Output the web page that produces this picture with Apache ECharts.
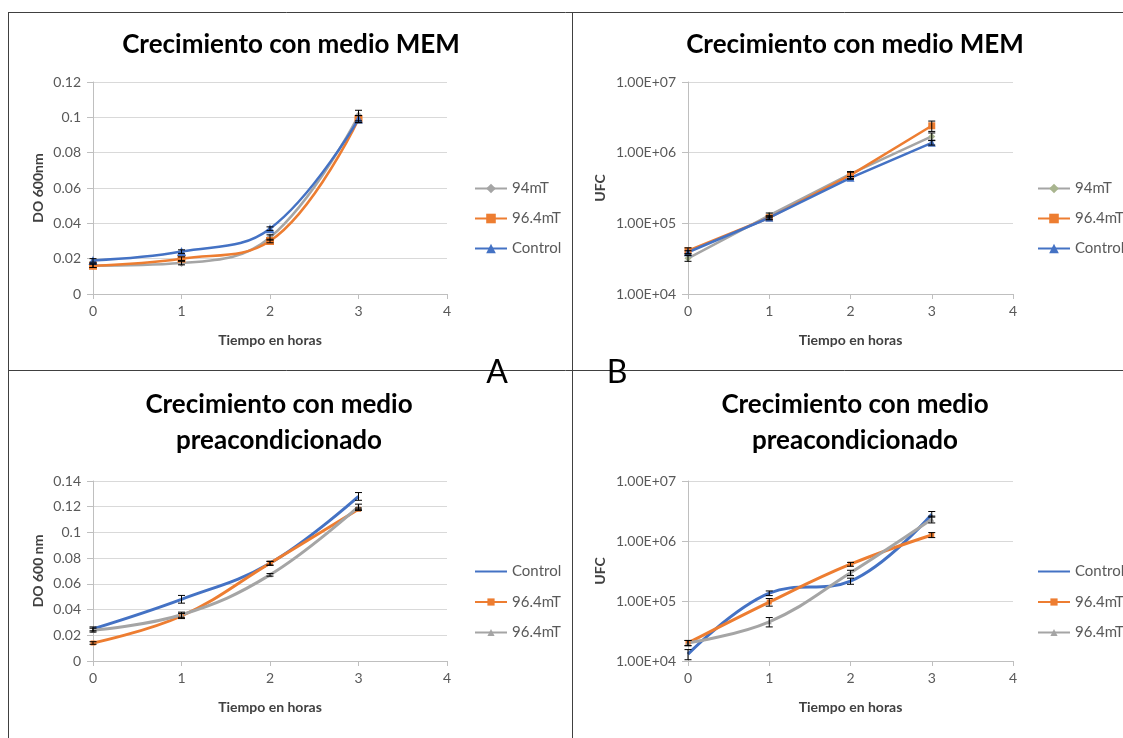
<!DOCTYPE html>
<html><head><meta charset="utf-8">
<script src="https://cdn.jsdelivr.net/npm/echarts@6/dist/echarts.min.js"></script>
<style>html,body{margin:0;padding:0;background:#fff}#c{width:1123px;height:738px}</style>
</head><body><div id="c"></div>
<script>
// ---- data ----
const hours = [0, 1, 2, 3];
const xTicks = [0, 1, 2, 3, 4];

// Panel A: MEM, DO 600nm
const a94 = [0.016, 0.0175, 0.032, 0.101];
const a94Err = [0.001, 0.001, 0.0015, 0.003];
const a964 = [0.016, 0.020, 0.030, 0.099];
const a964Err = [0.001, 0.001, 0.001, 0.002];
const aCtrl = [0.019, 0.024, 0.037, 0.099];
const aCtrlErr = [0.001, 0.001, 0.001, 0.002];

// Panel B: MEM, UFC
const b94 = [32000, 130000, 500000, 1700000];
const b94Err = [3000, 10000, 40000, 200000];
const b964 = [41000, 120000, 480000, 2400000];
const b964Err = [4000, 8000, 50000, 400000];
const bCtrl = [39000, 120000, 440000, 1380000];
const bCtrlErr = [2000, 6000, 20000, 100000];

// Panel C: preacondicionado, DO 600 nm
const cCtrl = [0.025, 0.048, 0.076, 0.128];
const cCtrlErr = [0.0015, 0.003, 0.0015, 0.003];
const c964 = [0.014, 0.035, 0.076, 0.118];
const c964Err = [0.001, 0.002, 0.0015, 0.001];
const c964b = [0.024, 0.036, 0.067, 0.120];
const c964bErr = [0.0015, 0.002, 0.001, 0.002];

// Panel D: preacondicionado, UFC
const dCtrl = [13000, 135000, 215000, 2800000];
const dCtrlErr = [2500, 12000, 25000, 300000];
const d964 = [20000, 96000, 410000, 1260000];
const d964Err = [2000, 14000, 30000, 120000];
const d964b = [20000, 45000, 295000, 2300000];
const d964bErr = [2000, 8000, 30000, 300000];

// ---- styling ----
const FONT = 'Lato, "Open Sans", sans-serif';
const BLUE = '#4472C4', ORANGE = '#ED7D31', GRAY = '#A5A5A5';

const chart = echarts.init(document.getElementById('c'), null, {renderer: 'canvas'});

function pairs(vals) { return hours.map((h, i) => [h, vals[i]]); }

function lineS(name, vals, g, color, symbol, size, smooth, symColor, width) {
  return {
    name, type: 'line', xAxisIndex: g, yAxisIndex: g, data: pairs(vals),
    smooth: smooth, symbol: symbol, symbolSize: size, showSymbol: size > 0,
    lineStyle: {color, width: width}, itemStyle: {color: symColor || color},
    z: 3, animation: false
  };
}
function errS(vals, errs, g) {
  return {
    type: 'custom', xAxisIndex: g, yAxisIndex: g, silent: true, z: 4, animation: false,
    data: hours.map((h, i) => [h, vals[i] - errs[i], vals[i] + errs[i]]),
    encode: {x: 0, y: [1, 2]},
    renderItem(params, api) {
      const x = api.value(0);
      const lo = api.coord([x, api.value(1)]);
      const hi = api.coord([x, api.value(2)]);
      const hw = 3.5;
      const st = {stroke: '#000', lineWidth: 1};
      return {type: 'group', children: [
        {type: 'line', shape: {x1: lo[0], y1: lo[1], x2: hi[0], y2: hi[1]}, style: st},
        {type: 'line', shape: {x1: hi[0] - hw, y1: hi[1], x2: hi[0] + hw, y2: hi[1]}, style: st},
        {type: 'line', shape: {x1: lo[0] - hw, y1: lo[1], x2: lo[0] + hw, y2: lo[1]}, style: st}
      ]};
    }
  };
}

const grids = [
  {left: 93, width: 354, top: 82, height: 212},
  {left: 688, width: 325, top: 82, height: 212},
  {left: 93, width: 354, top: 481, height: 180},
  {left: 688, width: 325, top: 481, height: 180}
];

const axisLineC = '#BFBFBF';
const labelStyle = {color: '#595959', fontSize: 14, fontFamily: FONT};
const nameStyle = {color: '#404040', fontSize: 14, fontWeight: 'bold', fontFamily: FONT};

const xAxes = grids.map((g, i) => ({
  gridIndex: i, type: 'value', min: xTicks[0], max: xTicks[xTicks.length - 1], interval: 1,
  axisLine: {show: true, lineStyle: {color: axisLineC, width: 1}},
  axisTick: {show: true, length: 5, lineStyle: {color: axisLineC}},
  splitLine: {show: false},
  axisLabel: Object.assign({margin: 10}, labelStyle),
  name: 'Tiempo en horas', nameLocation: 'middle', nameGap: 39, nameTextStyle: nameStyle
}));

const fmtDec = v => String(+v.toFixed(3));
const fmtExp = v => '1.00E+' + String(Math.round(Math.log10(v))).padStart(2, '0');

function linY(i, max, name, gap) {
  return {
    gridIndex: i, type: 'value', min: 0, max: max, interval: 0.02,
    axisLine: {show: true, lineStyle: {color: axisLineC}},
    axisTick: {show: true, length: 6, lineStyle: {color: axisLineC}},
    splitLine: {show: true, lineStyle: {color: '#D9D9D9', width: 1}},
    axisLabel: Object.assign({formatter: fmtDec, margin: 12}, labelStyle),
    name, nameLocation: 'middle', nameGap: gap, nameTextStyle: nameStyle
  };
}
function logY(i, name, gap) {
  return {
    gridIndex: i, type: 'log', logBase: 10, min: 1e4, max: 1e7,
    axisLine: {show: true, lineStyle: {color: axisLineC}},
    axisTick: {show: true, length: 6, lineStyle: {color: axisLineC}},
    splitLine: {show: true, lineStyle: {color: '#D9D9D9', width: 1}},
    axisLabel: Object.assign({formatter: fmtExp, margin: 12}, labelStyle),
    name, nameLocation: 'middle', nameGap: gap, nameTextStyle: nameStyle
  };
}
const yAxes = [
  linY(0, 0.12, 'DO 600nm', 48),
  logY(1, 'UFC', 81),
  linY(2, 0.14, 'DO 600 nm', 48),
  logY(3, 'UFC', 81)
];

// unique legend names per panel (trailing spaces keep the visible text identical)
const N = {
  a: ['94mT', '96.4mT', 'Control'],
  b: ['94mT ', '96.4mT ', 'Control '],
  c: ['Control  ', '96.4mT  ', '96.4mT   '],
  d: ['Control    ', '96.4mT    ', '96.4mT     ']
};

const series = [
  // A
  lineS(N.a[0], a94, 0, GRAY, 'diamond', 8, 0.4, null, 2.5),
  lineS(N.a[1], a964, 0, ORANGE, 'rect', 8, 0.4, null, 2.5),
  lineS(N.a[2], aCtrl, 0, BLUE, 'triangle', 9, 0.4, null, 2.5),
  errS(a94, a94Err, 0), errS(a964, a964Err, 0), errS(aCtrl, aCtrlErr, 0),
  // B
  lineS(N.b[0], b94, 1, GRAY, 'diamond', 7, false, '#A9B58F', 2.5),
  lineS(N.b[1], b964, 1, ORANGE, 'rect', 7, false, null, 2.5),
  lineS(N.b[2], bCtrl, 1, BLUE, 'triangle', 8, false, null, 2.5),
  errS(b94, b94Err, 1), errS(b964, b964Err, 1), errS(bCtrl, bCtrlErr, 1),
  // C
  lineS(N.c[0], cCtrl, 2, BLUE, 'circle', 0, 0.4, null, 3),
  lineS(N.c[1], c964, 2, ORANGE, 'rect', 5, 0.4, null, 3),
  lineS(N.c[2], c964b, 2, GRAY, 'triangle', 5, 0.4, null, 3),
  errS(cCtrl, cCtrlErr, 2), errS(c964, c964Err, 2), errS(c964b, c964bErr, 2),
  // D
  lineS(N.d[0], dCtrl, 3, BLUE, 'circle', 0, 0.4, null, 3),
  lineS(N.d[1], d964, 3, ORANGE, 'rect', 5, 0.4, null, 3),
  lineS(N.d[2], d964b, 3, GRAY, 'triangle', 5, 0.4, null, 3),
  errS(dCtrl, dCtrlErr, 3), errS(d964, d964Err, 3), errS(d964b, d964bErr, 3)
];

function legend(names, left, top, gap, noMarkFirst, small) {
  return {
    data: names.map((n, i) => (noMarkFirst && i === 0) ? {name: n, itemStyle: {opacity: 0}} : n),
    orient: 'vertical', left, top, padding: 0,
    itemWidth: 32, itemHeight: small ? 9 : 12, itemGap: gap,
    textStyle: {color: '#595959', fontSize: 15, fontFamily: FONT},
    selectedMode: false
  };
}

const titleFont = 'bold 26px ' + FONT;
function tText(text, x, y) {
  return {type: 'text', x, y, style: {text, font: titleFont, fill: '#000', textAlign: 'center', textVerticalAlign: 'middle'}, z: 10};
}
function border(x1, y1, x2, y2) {
  return {type: 'line', shape: {x1, y1, x2, y2}, style: {stroke: '#404040', lineWidth: 1}, z: 0};
}

chart.setOption({
  animation: false,
  backgroundColor: '#fff',
  grid: grids,
  xAxis: xAxes,
  yAxis: yAxes,
  legend: [
    legend(N.a, 474, 181, 15, false, false),
    legend(N.b, 1037, 181, 15, false, false),
    legend(N.c, 474, 564, 15.5, true, true),
    legend(N.d, 1037, 564, 15.5, true, true)
  ],
  series,
  graphic: [
    border(8, 12.5, 1123, 12.5),
    border(8.5, 12, 8.5, 738),
    border(572.5, 12, 572.5, 738),
    border(8, 370.5, 1123, 370.5),
    tText('Crecimiento con medio MEM', 291, 45),
    tText('Crecimiento con medio MEM', 855, 45),
    tText('Crecimiento con medio', 279, 405),
    tText('preacondicionado', 279, 441),
    tText('Crecimiento con medio', 855, 405),
    tText('preacondicionado', 855, 441),
    {type: 'text', x: 497, y: 373, style: {text: 'A', font: '32px ' + FONT, fill: '#000', textAlign: 'center', textVerticalAlign: 'middle'}, z: 10},
    {type: 'text', x: 617, y: 373, style: {text: 'B', font: '32px ' + FONT, fill: '#000', textAlign: 'center', textVerticalAlign: 'middle'}, z: 10}
  ]
});
</script>
</body></html>
